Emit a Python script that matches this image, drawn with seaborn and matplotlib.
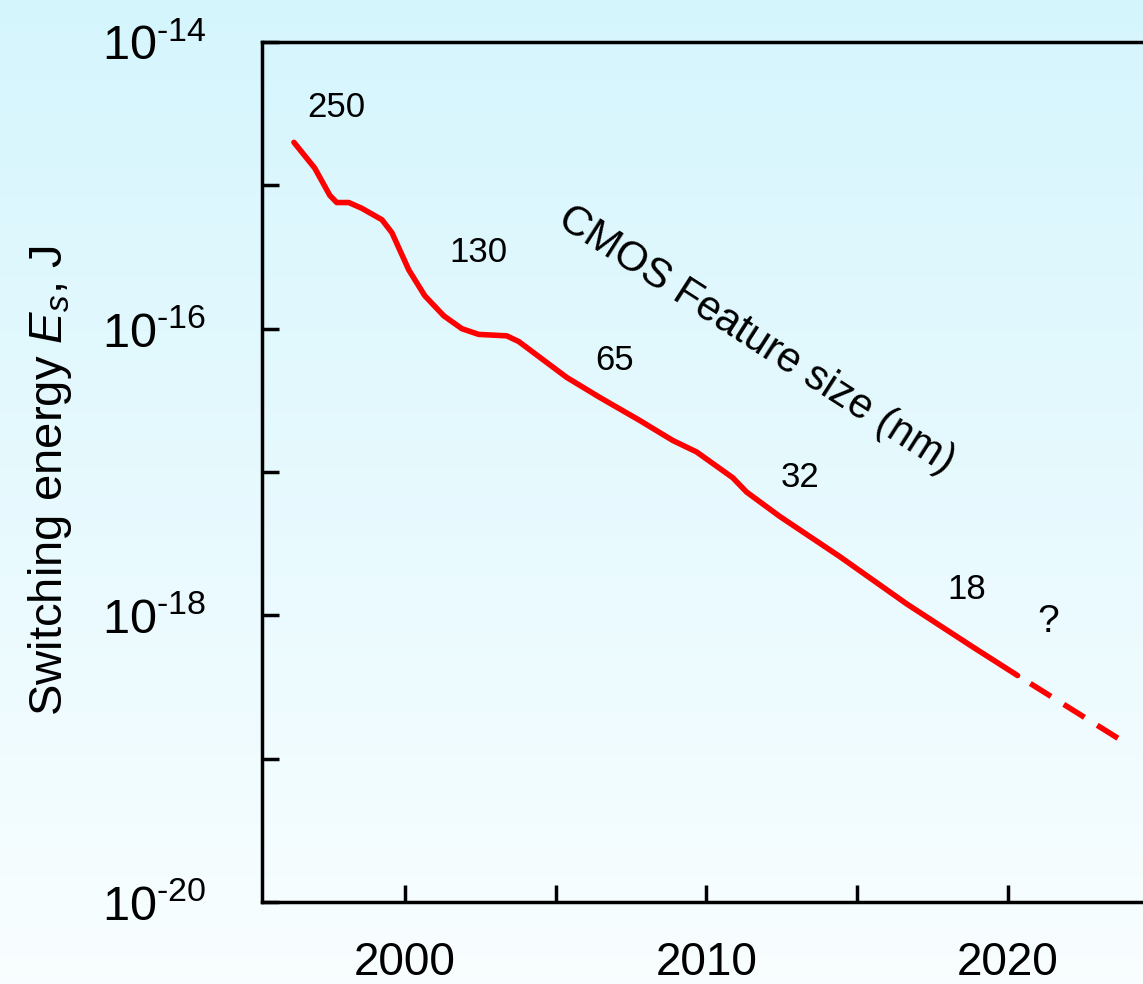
import numpy as np
import pandas as pd
import matplotlib
matplotlib.use("Agg")
import matplotlib.pyplot as plt
from matplotlib.ticker import FixedLocator, NullLocator
import seaborn as sns

# Trend da energia de comutação (log10 de Es em J)
years = [1996.32, 1997.01, 1997.51, 1997.74, 1998.14, 1998.57, 1999.24, 1999.57,
         2000.13, 2000.66, 2001.29, 2001.89, 2002.45, 2003.38, 2003.78, 2005.37,
         2006.47, 2007.79, 2008.89, 2009.68, 2010.88, 2011.34, 2012.44, 2014.43,
         2016.65, 2018.84, 2020.33]
log_energy = [-14.70, -14.88, -15.07, -15.12, -15.12, -15.16, -15.24, -15.33,
              -15.59, -15.77, -15.91, -16.00, -16.04, -16.05, -16.09, -16.34,
              -16.48, -16.64, -16.78, -16.86, -17.04, -17.14, -17.31, -17.59,
              -17.92, -18.22, -18.42]

# Extrapolação tracejada
proj_years = [2020.33, 2023.68]
proj_log_energy = [-18.42, -18.86]

# Nós tecnológicos (nm)
node_labels = ["250", "130", "65", "32", "18", "?"]
node_years = [1997.74, 2002.45, 2006.97, 2013.10, 2018.64, 2021.36]
node_log_energy = [-14.46, -15.47, -16.22, -17.04, -17.82, -18.05]

ytick_exps = [-20, -19, -18, -17, -16, -15, -14]
xtick_years = [2000, 2005, 2010, 2015, 2020]
xtick_labels = ["2000", "", "2010", "", "2020"]

df = pd.DataFrame({"year": years, "energy": 10.0 ** np.array(log_energy)})
df_proj = pd.DataFrame({"year": proj_years, "energy": 10.0 ** np.array(proj_log_energy)})

sns.set_style("ticks")
plt.rcParams["font.family"] = ["Liberation Sans", "DejaVu Sans"]
plt.rcParams["mathtext.fontset"] = "custom"
plt.rcParams["mathtext.rm"] = "Liberation Sans"
plt.rcParams["mathtext.it"] = "Liberation Sans:italic"
plt.rcParams["mathtext.bf"] = "Liberation Sans:bold"
plt.rcParams["text.color"] = "black"
plt.rcParams["axes.labelcolor"] = "black"

fig = plt.figure(figsize=(11.43, 9.84), dpi=100)

# Fundo em degradê
bg = fig.add_axes([0, 0, 1, 1], zorder=0)
top_col = np.array([0.835, 0.962, 0.992])
bot_col = np.array([0.976, 0.996, 1.0])
t = np.linspace(0, 1, 256)[:, None]
grad = (top_col[None, :] * (1 - t) + bot_col[None, :] * t)[:, None, :]
bg.imshow(grad, aspect="auto", extent=[0, 1, 0, 1])
bg.axis("off")

ax = fig.add_axes([262 / 1143, 82 / 984, 1047 / 1143, 860 / 984], zorder=1)
ax.set_facecolor("none")

lw = 4.0
sns.lineplot(data=df, x="year", y="energy", ax=ax, color="#ff0000", linewidth=lw)
sns.lineplot(data=df_proj, x="year", y="energy", ax=ax, color="#ff0000",
             linewidth=lw, linestyle=(4.4, (4.4, 2.7)))

ax.set_yscale("log")
ax.set_xlim(1995.26, 2030.0)
ax.set_ylim(1e-20, 1e-14)

ax.yaxis.set_major_locator(FixedLocator([10.0 ** e for e in ytick_exps]))
ax.yaxis.set_minor_locator(NullLocator())
ax.set_yticklabels([r"$10^{\text{-}%d}$" % (-e) if e % 2 == 0 else "" for e in ytick_exps])
ax.set_xticks(xtick_years)
ax.set_xticklabels(xtick_labels)

ax.tick_params(axis="both", direction="in", length=12, width=2.5,
               colors="black", labelcolor="black")
ax.tick_params(axis="y", labelsize=35, pad=40)
ax.tick_params(axis="x", labelsize=33, pad=28)

for side in ["left", "bottom", "top"]:
    ax.spines[side].set_linewidth(2.5)
    ax.spines[side].set_color("black")
ax.spines["right"].set_visible(False)

ax.set_xlabel("")
ax.set_ylabel(r"Switching energy $E_s$, J", fontsize=34, color="black")
ax.yaxis.set_label_coords(-0.18, 0.49)

for lbl, yr, le in zip(node_labels, node_years, node_log_energy):
    ax.text(yr, 10.0 ** le, lbl, fontsize=25 if lbl != "?" else 28,
            ha="center", va="center", color="black")

ax.text(2011.67, 10.0 ** -16.08, "CMOS Feature size (nm)", fontsize=30,
        rotation=-32.7, rotation_mode="anchor", ha="center", va="center",
        color="black")

fig.savefig("out.png", dpi=100)
